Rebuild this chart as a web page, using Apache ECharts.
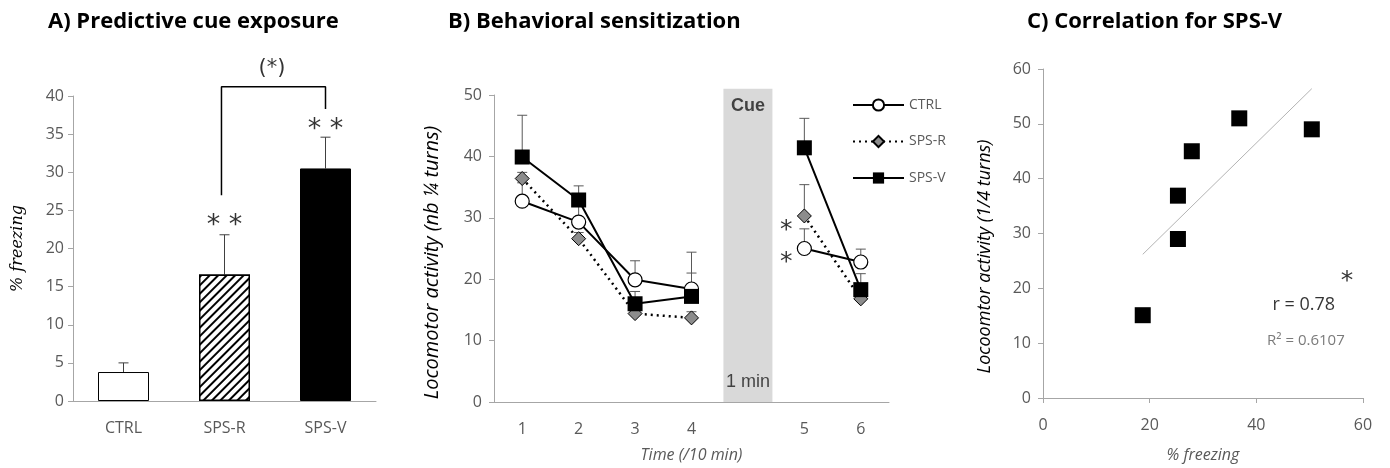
<!DOCTYPE html>
<html lang="en">
<head>
<meta charset="UTF-8">
<title>Cue exposure / sensitization / correlation</title>
<style>
    * { margin: 0; padding: 0; }
    body { background: #fff; }
    #chart { width: 1390px; height: 468px; }
</style>
<script src="https://cdn.jsdelivr.net/npm/echarts@6/dist/echarts.min.js"></script>
</head>
<body>
<div id="chart"></div>
<script>
// A) % freezing during predictive cue exposure
var groupsA = ['CTRL', 'SPS-R', 'SPS-V'];
var freezeMean = [3.8, 16.6, 30.5];
var freezeErr = [1.2, 5.2, 4.1];

// B) locomotor activity per 10 min block (blank slot = cue)
var timeCats = ['1', '2', '3', '4', '', '5', '6'];
var ctrlMean = [32.7, 29.3, 19.9, 18.4, null, 25.0, 22.8];
var ctrlErr = [3.0, 3.0, 3.1, 6.0, null, 3.2, 2.1];
var spsrMean = [36.4, 26.6, 14.4, 13.7, null, 30.3, 16.8];
var spsrErr = [1.0, 1.0, 1.0, 1.0, null, 5.1, 1.0];
var spsvMean = [39.9, 32.9, 16.0, 17.2, null, 41.4, 18.3];
var spsvErr = [6.8, 2.3, 2.0, 3.8, null, 4.8, 2.6];

// C) SPS-V individual animals
var corrFreezing = [18.7, 25.3, 25.3, 27.9, 36.8, 50.4];
var corrActivity = [15.1, 29.0, 36.9, 45.0, 51.0, 49.0];

var FONT = 'Open Sans';
var tickFont = { color: '#595959', fontSize: 16, fontFamily: FONT };
var axisGray = '#a6a6a6';

function errSeries(name, xIdx, yIdx, means, errs, color) {
    var d = [];
    for (var i = 0; i < means.length; i++) {
        if (means[i] != null) d.push([i, means[i], errs[i]]);
    }
    return {
        name: name, type: 'custom', xAxisIndex: xIdx, yAxisIndex: yIdx, z: 1,
        silent: true, clip: false,
        renderItem: function (params, api) {
            var p0 = api.coord([api.value(0), api.value(1)]);
            var p1 = api.coord([api.value(0), api.value(1) + api.value(2)]);
            var st = { stroke: color, lineWidth: 1 };
            return { type: 'group', children: [
                { type: 'line', shape: { x1: p0[0], y1: p0[1], x2: p1[0], y2: p1[1] }, style: st },
                { type: 'line', shape: { x1: p1[0] - 5, y1: p1[1], x2: p1[0] + 5, y2: p1[1] }, style: st }
            ] };
        },
        data: d
    };
}

function note(xIdx, yIdx, pts, style) {
    return {
        type: 'scatter', xAxisIndex: xIdx, yAxisIndex: yIdx, symbolSize: 0, silent: true, clip: false, z: 5,
        label: Object.assign({ show: true, position: 'inside', formatter: '{b}', color: '#000' }, style),
        data: pts.map(function (p) { return { name: p[2], value: [p[0], p[1]], label: p[3] || {} }; })
    };
}

// linear fit for the trend line
var n = corrFreezing.length, mx = 0, my = 0, sxy = 0, sxx = 0;
for (var i = 0; i < n; i++) { mx += corrFreezing[i] / n; my += corrActivity[i] / n; }
for (var i = 0; i < n; i++) {
    sxy += (corrFreezing[i] - mx) * (corrActivity[i] - my);
    sxx += (corrFreezing[i] - mx) * (corrFreezing[i] - mx);
}
var slope = sxy / sxx, icpt = my - slope * mx;
var fx0 = Math.min.apply(null, corrFreezing), fx1 = Math.max.apply(null, corrFreezing);

function valAxis(grid, max, step, name, gap, nameFont, margin) {
    return { type: 'value', gridIndex: grid, min: 0, max: max, interval: step,
        name: name, nameLocation: 'middle', nameGap: gap, nameTextStyle: nameFont,
        splitLine: { show: false },
        axisLine: { show: true, onZero: false, lineStyle: { color: axisGray } },
        axisTick: { show: true, length: 5, lineStyle: { color: axisGray } },
        axisLabel: Object.assign({ margin: margin }, tickFont) };
}
var italicName = { fontFamily: FONT, fontStyle: 'italic', fontSize: 16, color: '#595959' };

var chart = echarts.init(document.getElementById('chart'));
var option = {
    animation: false,
    title: [
        { text: 'A) Predictive cue exposure', left: 48, top: 11, padding: 0 },
        { text: 'B) Behavioral sensitization', left: 448, top: 11, padding: 0 },
        { text: 'C) Correlation for SPS-V', left: 1027, top: 11, padding: 0 }
    ].map(function (t) {
        t.textStyle = { fontFamily: FONT, fontWeight: 'bold', fontSize: 22, color: '#000' };
        return t;
    }),
    legend: {
        data: ['CTRL', 'SPS-R', 'SPS-V'],
        orient: 'vertical', left: 852, top: 98, padding: 0,
        itemWidth: 51, itemHeight: 14, itemGap: 22.5,
        textStyle: { color: '#595959', fontSize: 14, fontFamily: FONT }
    },
    grid: [
        { left: 73, top: 96, width: 303, height: 305 },
        { left: 494, top: 95, width: 395, height: 309 },
        { left: 1043, top: 69, width: 320, height: 330 }
    ],
    xAxis: [
        { type: 'category', gridIndex: 0, data: groupsA,
          axisLine: { lineStyle: { color: axisGray } }, axisTick: { length: 5, lineStyle: { color: axisGray } },
          axisLabel: Object.assign({ margin: 19 }, tickFont) },
        { type: 'category', gridIndex: 1, data: timeCats,
          name: 'Time (/10 min)', nameLocation: 'middle', nameGap: 45, nameTextStyle: italicName,
          axisLine: { lineStyle: { color: axisGray } }, axisTick: { length: 5, lineStyle: { color: axisGray } },
          axisLabel: Object.assign({ margin: 19, interval: 0 }, tickFont) },
        { type: 'value', gridIndex: 2, min: 0, max: 60, interval: 20,
          name: '% freezing', nameLocation: 'middle', nameGap: 49, nameTextStyle: italicName,
          splitLine: { show: false },
          axisLine: { onZero: false, lineStyle: { color: axisGray } },
          axisTick: { show: true, length: 5, lineStyle: { color: axisGray } },
          axisLabel: Object.assign({ margin: 19 }, tickFont) },
        { type: 'value', gridIndex: 0, min: -0.5, max: 2.5, show: false }
    ],
    yAxis: [
        valAxis(0, 40, 5, '% freezing', 47,
            { fontFamily: 'DejaVu Serif', fontStyle: 'italic', fontSize: 16, color: '#000' }, 9),
        valAxis(1, 50, 10, 'Locomotor activity (nb \u00bc turns)', 52,
            { fontFamily: FONT, fontStyle: 'italic', fontSize: 20, color: '#000', padding: [0, 28, 0, 0] }, 12),
        valAxis(2, 60, 10, 'Locoomtor activity (1/4 turns)', 49,
            { fontFamily: FONT, fontStyle: 'italic', fontSize: 18, color: '#000', padding: [0, 46, 0, 0] }, 12)
    ],
    series: [
        // ---- A ----
        { type: 'bar', xAxisIndex: 0, yAxisIndex: 0, barWidth: 51, z: 2,
          data: [
            { value: freezeMean[0], itemStyle: { color: '#fff', borderColor: '#000', borderWidth: 1 } },
            { value: freezeMean[1], itemStyle: { color: '#fff', borderColor: '#000', borderWidth: 1.5,
                decal: { symbol: 'rect', symbolSize: 1, dashArrayX: [1, 0], dashArrayY: [2, 3.5],
                         rotation: -Math.PI / 4, color: '#000', backgroundColor: '#fff' } } },
            { value: freezeMean[2], itemStyle: { color: '#000', borderColor: '#000', borderWidth: 1 } }
          ] },
        errSeries('errA', 0, 0, freezeMean, freezeErr, '#404040'),
        { type: 'line', xAxisIndex: 3, yAxisIndex: 0, symbol: 'none', clip: false, silent: true,
          lineStyle: { color: '#000', width: 1.5 },
          data: [[0.97, 27], [0.97, 41.2], [2, 41.2], [2, 38.3]] },
        note(3, 0, [[1, 23.0, '* *'], [2, 35.6, '* *']], { fontSize: 27, fontFamily: 'DejaVu Sans' }),
        note(3, 0, [[1.47, 43.6, '(*)']], { fontSize: 21, fontFamily: 'DejaVu Sans' }),

        // ---- B ----
        { type: 'bar', xAxisIndex: 1, yAxisIndex: 1, barWidth: 49, clip: false, silent: true, z: 0,
          itemStyle: { color: '#d9d9d9' },
          data: [null, null, null, null, 51, null, null] },
        errSeries('errCTRL', 1, 1, ctrlMean, ctrlErr, '#595959'),
        errSeries('errSPSR', 1, 1, spsrMean, spsrErr, '#595959'),
        errSeries('errSPSV', 1, 1, spsvMean, spsvErr, '#595959'),
        { name: 'CTRL', type: 'line', xAxisIndex: 1, yAxisIndex: 1, z: 4,
          symbol: 'circle', symbolSize: 14,
          itemStyle: { color: '#fff', borderColor: '#000', borderWidth: 1.2 },
          lineStyle: { color: '#000', width: 2 },
          data: ctrlMean },
        { name: 'SPS-R', type: 'line', xAxisIndex: 1, yAxisIndex: 1, z: 3,
          symbol: 'diamond', symbolSize: 14,
          itemStyle: { color: '#8c8c8c', borderColor: '#000', borderWidth: 1 },
          lineStyle: { color: '#000', width: 2.5, type: [2, 4] },
          data: spsrMean },
        { name: 'SPS-V', type: 'line', xAxisIndex: 1, yAxisIndex: 1, z: 5,
          symbol: 'rect', symbolSize: 15,
          itemStyle: { color: '#000', opacity: 1 },
          lineStyle: { color: '#000', width: 2 },
          data: spsvMean },
        note(1, 1, [[4, 48.2, 'Cue', { fontWeight: 'bold' }], [4, 3.2, '1 min']],
             { fontSize: 18, fontFamily: 'Liberation Sans', color: '#1a1a1a' }),
        note(1, 1, [[5, 29.0, '*'], [5, 23.8, '*']],
             { fontSize: 25, fontFamily: 'DejaVu Sans', offset: [-18, 7] }),

        // ---- C ----
        { type: 'line', xAxisIndex: 2, yAxisIndex: 2, symbol: 'none', silent: true,
          lineStyle: { color: '#b3b3b3', width: 1 },
          data: [[fx0, icpt + slope * fx0], [fx1, icpt + slope * fx1]] },
        { type: 'scatter', xAxisIndex: 2, yAxisIndex: 2, symbol: 'rect', symbolSize: 16, z: 3,
          itemStyle: { color: '#000', opacity: 1 },
          data: corrFreezing.map(function (v, i) { return [v, corrActivity[i]]; }) },
        note(2, 2, [[57.0, 21.2, '*']], { fontSize: 25, fontFamily: 'DejaVu Sans' }),
        note(2, 2, [[48.9, 16.9, 'r = 0.78']], { fontSize: 18, fontFamily: FONT }),
        note(2, 2, [[49.3, 10.4, 'R\u00b2 = 0.6107']], { fontSize: 15, fontFamily: FONT, color: '#595959' })
    ]
};
chart.setOption(option);
</script>
</body>
</html>
